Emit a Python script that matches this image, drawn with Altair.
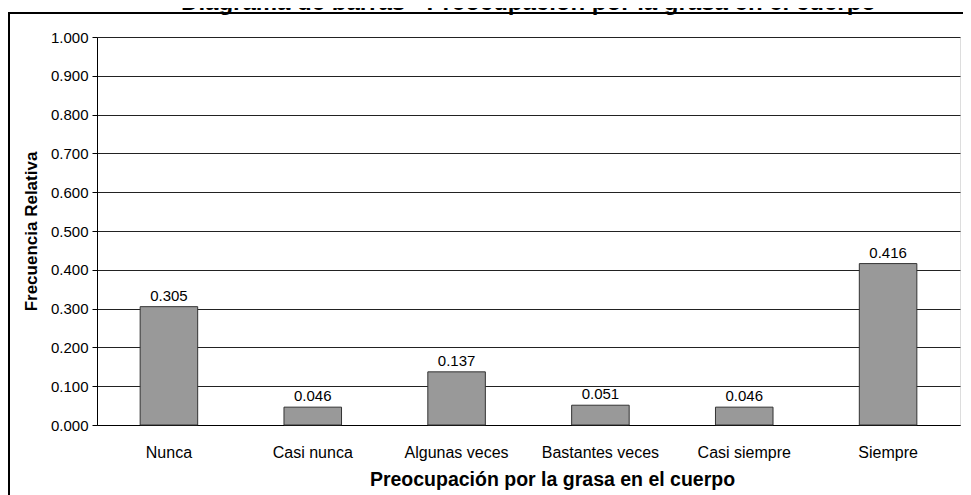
import altair as alt
import pandas as pd

categorias = ["Nunca", "Casi nunca", "Algunas veces", "Bastantes veces", "Casi siempre", "Siempre"]
frecuencias = [0.305, 0.046, 0.137, 0.051, 0.046, 0.416]
etiquetas = ["0.305", "0.046", "0.137", "0.051", "0.046", "0.416"]
ticks_y = [0.0, 0.1, 0.2, 0.3, 0.4, 0.5, 0.6, 0.7, 0.8, 0.9, 1.0]
titulo = "Diagrama de barras - Preocupación por la grasa en el cuerpo"

df = pd.DataFrame({"cat": categorias, "f": frecuencias, "lab": etiquetas})

FONT = "Liberation Sans"

x = alt.X("cat:N", sort=categorias,
          scale=alt.Scale(paddingInner=0.6, paddingOuter=0.3),
          axis=alt.Axis(title="Preocupación por la grasa en el cuerpo", labelAngle=0,
                        ticks=False, labelPadding=19, titlePadding=10,
                        titleX=455, titleAlign="center",
                        labelFontSize=16, titleFontSize=19.5, titleFontWeight="bold",
                        labelFont=FONT, titleFont=FONT, labelColor="black", titleColor="black",
                        domainColor="black", grid=False))
y = alt.Y("f:Q", scale=alt.Scale(domain=[0, 1], nice=False),
          axis=alt.Axis(title="Frecuencia Relativa", values=ticks_y, tickCount=11,
                        labelOverlap=False,
                        format=".3f", tickSize=5, tickColor="black", domainColor="black",
                        gridColor="#222", gridWidth=1, labelPadding=4, titlePadding=10,
                        labelFontSize=15, titleFontSize=17, titleFontWeight="bold",
                        labelFont=FONT, titleFont=FONT, labelColor="black", titleColor="black"))

bars = alt.Chart(df).mark_bar(color="#999999", stroke="#333333", strokeWidth=1).encode(x=x, y=y)
text = alt.Chart(df).mark_text(dy=-11, fontSize=15, font=FONT, color="black").encode(
    x=x, y=y, text="lab:N")

frame = alt.Chart(df).mark_rect(fill=None, stroke="black", strokeWidth=1.5).encode(
    x=alt.value(-88), x2=alt.value(900), y=alt.value(-24), y2=alt.value(480))

chart = alt.layer(frame, bars, text).properties(
    width=863, height=388,
    title=alt.TitleParams(titulo, fontSize=24, font=FONT, fontWeight="bold",
                          anchor="middle", frame="group", baseline="alphabetic", offset=-22),
    autosize=alt.AutoSizeParams(type="none"),
    padding={"left": 89, "top": 29, "right": 3, "bottom": 70},
).configure_view(stroke=None).configure(background="white")

chart.save("out.html", embed_options={"renderer": "svg", "actions": False})
